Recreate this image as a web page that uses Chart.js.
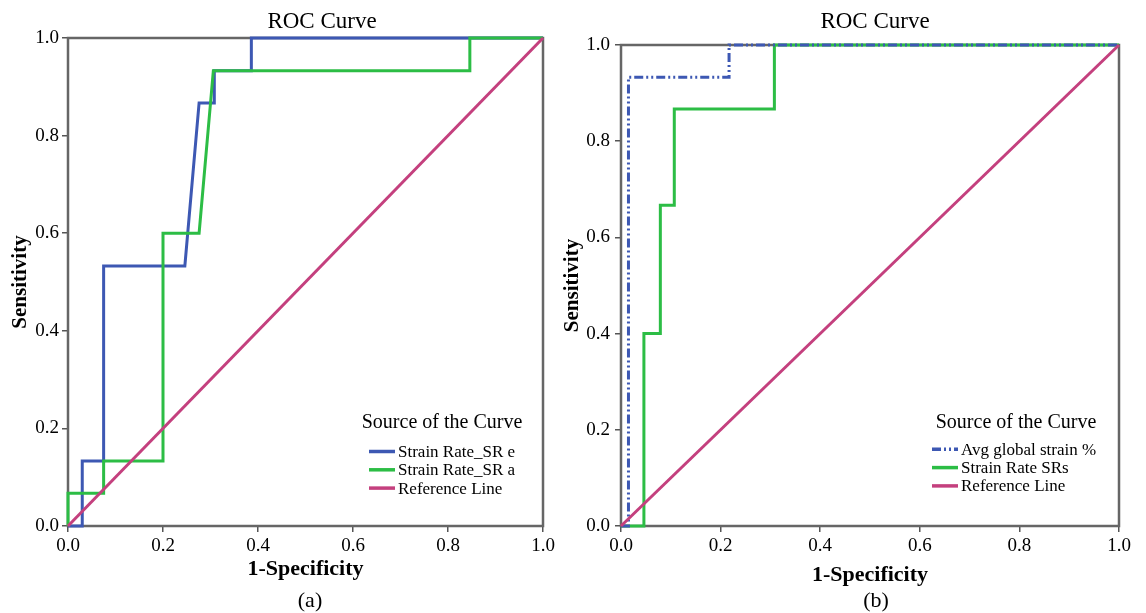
<!DOCTYPE html>
<html>
<head>
<meta charset="utf-8">
<script src="https://cdn.jsdelivr.net/npm/chart.js@4.4.1/dist/chart.umd.min.js"></script>
<style>
  body { margin: 0; background: #fff; }
  #wrap { position: relative; width: 1146px; height: 613px; }
  canvas { position: absolute; top: 0; }
</style>
</head>
<body>
<div id="wrap">
  <canvas id="rocA" width="560" height="613" style="left:0"></canvas>
  <canvas id="rocB" width="586" height="613" style="left:560px"></canvas>
</div>
<script>
// panel (a)
var srE_x = [0, 0.03, 0.03, 0.075, 0.075, 0.246, 0.276, 0.308, 0.308, 0.386, 0.386, 1];
var srE_y = [0, 0, 0.133, 0.133, 0.533, 0.533, 0.867, 0.867, 0.933, 0.933, 1, 1];
var srA_x = [0, 0, 0.075, 0.075, 0.2, 0.2, 0.276, 0.306, 0.846, 0.846, 1];
var srA_y = [0, 0.067, 0.067, 0.133, 0.133, 0.6, 0.6, 0.933, 0.933, 1, 1];
// panel (b)
var avg_x = [0, 0.015, 0.015, 0.217, 0.217, 1];
var avg_y = [0, 0, 0.933, 0.933, 1, 1];
var srs_x = [0, 0.046, 0.046, 0.079, 0.079, 0.107, 0.107, 0.308, 0.308, 1];
var srs_y = [0, 0, 0.4, 0.4, 0.667, 0.667, 0.867, 0.867, 1, 1];
// reference line
var ref_x = [0, 1];
var ref_y = [0, 1];
var tickValues = [0, 0.2, 0.4, 0.6, 0.8, 1.0];

var BLUE = '#3d58b3', GREEN = '#2cbd45', PINK = '#c4407e';
var SERIF = '"Liberation Serif", "Times New Roman", serif';

function pts(xs, ys) {
    return xs.map(function (x, i) { return { x: x, y: ys[i] }; });
}

// frame, headings and legend drawn on the canvas
var panelText = {
    id: 'panelText',
    beforeDatasetsDraw: function (chart) {
        var a = chart.chartArea, ctx = chart.ctx;
        ctx.save();
        ctx.strokeStyle = '#666';
        ctx.lineWidth = 2.5;
        ctx.strokeRect(a.left, a.top, a.right - a.left, a.bottom - a.top);
        ctx.restore();
    },
    afterDraw: function (chart, args, o) {
        var ctx = chart.ctx;
        ctx.save();
        ctx.fillStyle = '#000';
        ctx.textAlign = 'center';
        ctx.textBaseline = 'alphabetic';
        ctx.font = '23px ' + SERIF;
        ctx.fillText(o.title, o.titleX, 28);
        ctx.font = '22px ' + SERIF;
        ctx.fillText(o.caption, o.captionX, 607);
        ctx.font = '20px ' + SERIF;
        ctx.fillText('Source of the Curve', o.legX, o.legY);
        ctx.textAlign = 'left';
        ctx.textBaseline = 'middle';
        ctx.font = '17px ' + SERIF;
        chart.data.datasets.forEach(function (ds, i) {
            var y = o.itemY + i * 18.3;
            ctx.strokeStyle = ds.borderColor;
            ctx.lineWidth = 3.5;
            ctx.setLineDash(ds.borderDash || []);
            ctx.beginPath();
            ctx.moveTo(o.lineX, y);
            ctx.lineTo(o.lineX + 26, y);
            ctx.stroke();
            ctx.setLineDash([]);
            ctx.fillText(ds.label, o.lineX + 29, y + 1);
        });
        ctx.restore();
    }
};

function makeConfig(datasets, opts) {
    return {
        type: 'scatter',
        data: { datasets: datasets },
        options: {
            responsive: false,
            animation: false,
            layout: { padding: { top: opts.top, right: opts.right, bottom: 0, left: 0 } },
            plugins: {
                legend: { display: false },
                tooltip: { enabled: false },
                panelText: opts.text
            },
            scales: {
                x: {
                    type: 'linear', min: 0, max: 1,
                    afterBuildTicks: function (s) { s.ticks = tickValues.map(function (v) { return { value: v }; }); },
                    ticks: { callback: function (v) { return v.toFixed(1); }, color: '#000', padding: 3,
                             font: { family: SERIF, size: 19 }, maxRotation: 0 },
                    grid: { drawOnChartArea: false, tickLength: 6, color: '#555', lineWidth: 1.5 },
                    border: { display: false },
                    title: { display: true, text: '1-Specificity', color: '#000',
                             font: { family: SERIF, size: 22, weight: 'bold' },
                             padding: { top: 0, bottom: opts.xTitlePad } },
                    afterFit: function (s) { s.height = 87; }
                },
                y: {
                    type: 'linear', min: 0, max: 1,
                    afterBuildTicks: function (s) { s.ticks = tickValues.map(function (v) { return { value: v }; }); },
                    ticks: { callback: function (v) { return v.toFixed(1); }, color: '#000', padding: opts.yTickPad,
                             font: { family: SERIF, size: 19 } },
                    grid: { drawOnChartArea: false, tickLength: 6, color: '#555', lineWidth: 1.5 },
                    border: { display: false },
                    title: { display: true, text: 'Sensitivity', color: '#000',
                             font: { family: SERIF, size: 21, weight: 'bold' },
                             padding: { top: opts.yTitlePad, bottom: 0 } },
                    afterFit: function (s) { s.width = opts.yWidth; }
                }
            },
            elements: { point: { radius: 0 }, line: { tension: 0, borderWidth: 3 } }
        },
        plugins: [panelText]
    };
}

function line(label, xs, ys, color, order, dash) {
    return { label: label, data: pts(xs, ys), showLine: true, borderColor: color,
             backgroundColor: color, borderWidth: 3, pointRadius: 0, clip: false,
             order: order, borderDash: dash || [] };
}

new Chart(document.getElementById('rocA').getContext('2d'), makeConfig([
    line('Strain Rate_SR e', srE_x, srE_y, BLUE, 2),
    line('Strain Rate_SR a', srA_x, srA_y, GREEN, 1),
    line('Reference Line', ref_x, ref_y, PINK, 0)
], { top: 38, right: 17, yWidth: 68, xTitlePad: 30, yTitlePad: 8, yTickPad: 3,
     text: { title: 'ROC Curve', caption: '(a)', titleX: 322, captionX: 310, legX: 442, legY: 428,
             lineX: 369, itemY: 451.5 } }));

new Chart(document.getElementById('rocB').getContext('2d'), makeConfig([
    line('Avg global strain %', avg_x, avg_y, BLUE, 1, [9, 3, 2, 3, 2, 3]),
    line('Strain Rate SRs', srs_x, srs_y, GREEN, 2),
    line('Reference Line', ref_x, ref_y, PINK, 0)
], { top: 45, right: 27, yWidth: 61, xTitlePad: 24, yTitlePad: 0, yTickPad: 5,
     text: { title: 'ROC Curve', caption: '(b)', titleX: 315, captionX: 316, legX: 456, legY: 428,
             lineX: 372, itemY: 449.3 } }));
</script>
</body>
</html>
